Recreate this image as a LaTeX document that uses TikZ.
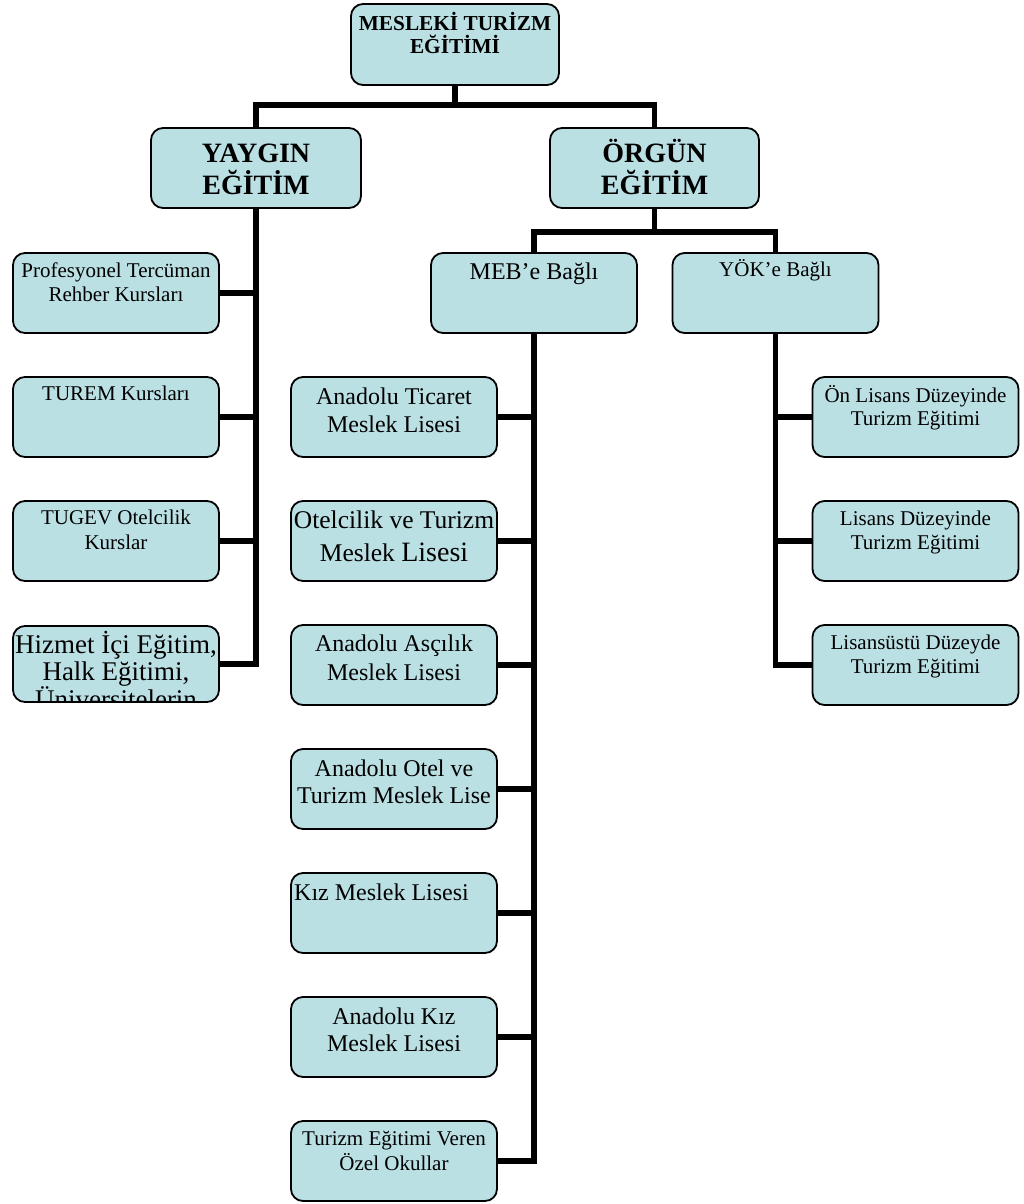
\documentclass[tikz,border=0pt]{standalone}
\usepackage{fontspec}
\setmainfont{Liberation Serif}
\definecolor{boxfill}{RGB}{187,224,228}
\newcommand{\fsz}[2]{\fontsize{#1}{#2}\selectfont}
\newcommand{\st}{\rule{0pt}{0.9em}}
\tikzset{
  box/.style={draw=black, line width=1.8pt, fill=boxfill, rounded corners=12pt,
              minimum width=206pt, minimum height=80pt, inner sep=0pt, outer sep=0pt},
  lbl/.style={anchor=north, inner sep=0pt, align=center},
  conn/.style={line width=5.5pt, line cap=butt, line join=miter},
}
\begin{document}
\begin{tikzpicture}[x=1pt,y=-1pt]
\useasboundingbox (0,0) rectangle (1023,1204);
% ---------- boxes ----------
\node[box, minimum width=208pt, minimum height=81pt] (top) at (455,44.5) {};
\node[box, minimum width=210pt] (yay) at (256,168) {};
\node[box, minimum width=209pt] (org) at (654.5,168) {};
\node[box] (meb) at (534,293) {};
\node[box] (yok) at (775.5,293) {};
% left column
\node[box] (l1) at (116,293) {};
\node[box] (l2) at (116,417) {};
\node[box] (l3) at (116,541) {};
\node[box, minimum height=76pt] (l4) at (116,664) {};
% middle column
\node[box] (m1) at (394,417) {};
\node[box] (m2) at (394,541) {};
\node[box] (m3) at (394,665) {};
\node[box] (m4) at (394,789) {};
\node[box] (m5) at (394,913) {};
\node[box] (m6) at (394,1037) {};
\node[box] (m7) at (394,1161) {};
% right column
\node[box] (r1) at (915.5,417) {};
\node[box] (r2) at (915.5,541) {};
\node[box] (r3) at (915.5,665) {};
% ---------- texts ----------
\node[lbl, font={\bfseries\fsz{21.3}{23}}] (top-t) at ([yshift=-6.8pt]top.north) {\st MESLEKİ TURİZM\\EĞİTİMİ};
\node[lbl, font={\bfseries\fsz{28}{32}}] (yay-t) at ([yshift=-9pt]yay.north) {\st YAYGIN\\EĞİTİM};
\node[lbl, font={\bfseries\fsz{28}{32}}] (org-t) at ([yshift=-9pt]org.north) {\st ÖRGÜN\\EĞİTİM};
\node[lbl, font={\fsz{24}{27}}] (meb-t) at ([yshift=-4.5pt]meb.north) {\st MEB’e Bağlı};
\node[lbl, font={\fsz{21}{24}}] (yok-t) at ([yshift=-4pt]yok.north) {\st YÖK’e Bağlı};
\node[lbl, font={\fsz{21}{24}}] (l1-t) at ([yshift=-5pt]l1.north) {\st Profesyonel Tercüman\\Rehber Kursları};
\node[lbl, font={\fsz{21}{24}}] (l2-t) at ([yshift=-4pt]l2.north) {\st TUREM Kursları};
\node[lbl, font={\fsz{21}{25}}] (l3-t) at ([yshift=-4pt]l3.north) {\st TUGEV Otelcilik\\Kurslar};
\begin{scope}
  \clip[rounded corners=12pt] (l4.south west) rectangle (l4.north east);
  \node[lbl, font={\fsz{27}{26.5}}] (l4-t) at ([yshift=-3pt]l4.north) {\st Hizmet İçi Eğitim,\\Halk Eğitimi,\\Üniversitelerin};
\end{scope}
\node[lbl, font={\fsz{24}{28}}] (m1-t) at ([yshift=-5.4pt]m1.north) {\st Anadolu Ticaret\\Meslek Lisesi};
\node[lbl, font={\fsz{25.5}{29}}] (m2-t) at ([yshift=-4pt]m2.north) {\st Otelcilik ve Turizm\\[4pt]Meslek {\fsz{28}{32}Lisesi}};
\node[lbl, font={\fsz{24}{29}}] (m3-t) at ([yshift=-4.4pt]m3.north) {\st Anadolu Asçılık\\Meslek Lisesi};
\node[lbl, font={\fsz{24}{27}}] (m4-t) at ([yshift=-6pt]m4.north) {\st Anadolu Otel ve\\Turizm Meslek Lise};
\node[lbl, anchor=north west, font={\fsz{24}{27}}] (m5-t) at ([xshift=3pt,yshift=-5.4pt]m5.north west) {\st Kız Meslek Lisesi};
\node[lbl, font={\fsz{24}{27}}] (m6-t) at ([yshift=-6pt]m6.north) {\st Anadolu Kız\\Meslek Lisesi};
\node[lbl, font={\fsz{21}{25}}] (m7-t) at ([yshift=-5pt]m7.north) {\st Turizm Eğitimi Veren\\Özel Okullar};
\node[lbl, font={\fsz{21}{23.5}}] (r1-t) at ([yshift=-6pt]r1.north) {\st Ön Lisans Düzeyinde\\Turizm Eğitimi};
\node[lbl, font={\fsz{21}{24}}] (r2-t) at ([yshift=-5pt]r2.north) {\st Lisans Düzeyinde\\Turizm Eğitimi};
\node[lbl, font={\fsz{21}{24}}] (r3-t) at ([yshift=-5pt]r3.north) {\st Lisansüstü Düzeyde\\Turizm Eğitimi};
% ---------- connectors ----------
\coordinate (j1) at (455,105);
\coordinate (j2) at (654.5,232);
\draw[conn] (top.south) -- (j1);
\draw[conn] (yay.north) |- (j1) -| (org.north);
\draw[conn] (org.south) -- (j2);
\draw[conn] (meb.north) |- (j2) -| (yok.north);
% yaygin branch
\draw[conn] (yay.south) |- (l4.east);
\foreach \b in {l1,l2,l3} \draw[conn] (\b.east) -- (\b.east -| yay.south);
% meb branch
\draw[conn] (meb.south) |- (m7.east);
\foreach \b in {m1,m2,m3,m4,m5,m6} \draw[conn] (\b.east) -- (\b.east -| meb.south);
% yok branch
\draw[conn] (yok.south) |- (r3.west);
\foreach \b in {r1,r2} \draw[conn] (\b.west) -- (\b.west -| yok.south);
\end{tikzpicture}
\end{document}
